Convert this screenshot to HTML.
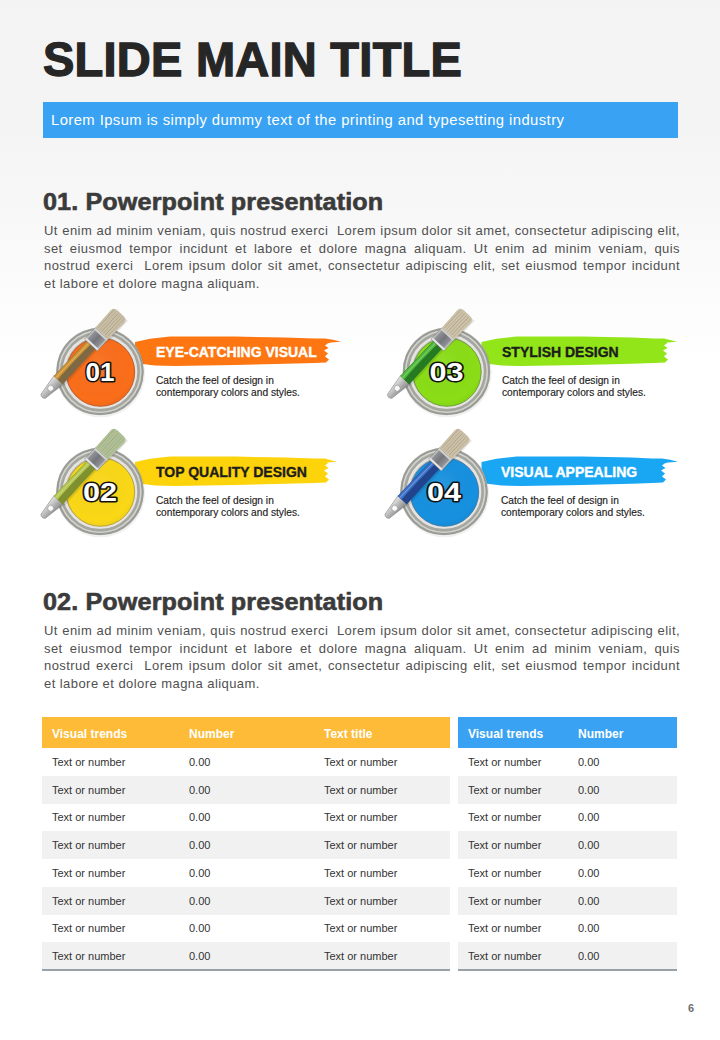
<!DOCTYPE html>
<html><head><meta charset="utf-8">
<style>
*{margin:0;padding:0;box-sizing:border-box}
html,body{width:720px;height:1040px;overflow:hidden}
body{position:relative;font-family:"Liberation Sans",sans-serif;background:linear-gradient(#f3f3f3 0px,#f4f4f4 120px,#f8f8f8 220px,#fcfcfc 300px,#fff 370px)}
.abs{position:absolute;white-space:nowrap}
#title{left:43px;top:30px;font-size:47px;letter-spacing:0.25px;font-weight:bold;color:#262626;line-height:60px;transform:scaleY(1.01);transform-origin:0 0;-webkit-text-stroke:1.3px #262626}
#sub{left:43px;top:102px;width:635px;height:36px;background:#39a2f2}
#sub span{position:absolute;left:8px;top:9.5px;font-size:14px;letter-spacing:0.4px;color:#fff;line-height:17px;transform:scaleX(1.058);transform-origin:0 0}
.h{left:43px;font-size:24px;font-weight:bold;color:#3b3b3b;letter-spacing:0.1px;line-height:30px;transform:scaleX(1.05);transform-origin:0 0;-webkit-text-stroke:0.6px #3b3b3b}
.p{left:44px;width:636px;font-size:13px;letter-spacing:0.44px;color:#505050;line-height:17.6px;white-space:normal}
.p div{text-align:justify;text-align-last:justify;white-space:nowrap}
.p div.l{text-align-last:left}
.bt{font-size:14px;font-weight:bold;line-height:18px;-webkit-text-stroke:0.35px currentColor}
.desc{font-size:10.2px;color:#222;line-height:12.2px;-webkit-text-stroke:0.15px #222}
.tbl{position:absolute;top:717px;border-collapse:collapse}
.tbl th{height:31px;font-size:12px;font-weight:bold;color:#fff;text-align:left;padding:2px 0 0 10px;vertical-align:middle}
.tbl td{height:27.75px;font-size:11px;color:#333;padding:0 0 0 10px;vertical-align:middle;white-space:nowrap}
.tbl tbody tr:nth-child(even) td{background:#f1f1f1}
.tbl tr:last-child td{border-bottom:2px solid #98a0a8}
</style></head><body>
<div id="title" class="abs">SLIDE MAIN TITLE</div>
<div id="sub" class="abs"><span>Lorem Ipsum is simply dummy text of the printing and typesetting industry</span></div>

<div class="abs h" style="top:187px">01. Powerpoint presentation</div>
<div class="abs p" style="top:222px">
<div>Ut enim ad minim veniam, quis nostrud exerci &nbsp;Lorem ipsum dolor sit amet, consectetur adipiscing elit,</div>
<div>set eiusmod tempor incidunt et labore et dolore magna aliquam. Ut enim ad minim veniam, quis</div>
<div>nostrud exerci &nbsp;Lorem ipsum dolor sit amet, consectetur adipiscing elit, set eiusmod tempor incidunt</div>
<div class="l">et labore et dolore magna aliquam.</div>
</div>

<div class="abs h" style="top:587px">02. Powerpoint presentation</div>
<div class="abs p" style="top:622px">
<div>Ut enim ad minim veniam, quis nostrud exerci &nbsp;Lorem ipsum dolor sit amet, consectetur adipiscing elit,</div>
<div>set eiusmod tempor incidunt et labore et dolore magna aliquam. Ut enim ad minim veniam, quis</div>
<div>nostrud exerci &nbsp;Lorem ipsum dolor sit amet, consectetur adipiscing elit, set eiusmod tempor incidunt</div>
<div class="l">et labore et dolore magna aliquam.</div>
</div>


<svg class="abs" style="left:0;top:0" width="720" height="1040" viewBox="0 0 720 1040">
<defs>
<radialGradient id="rim" cx="0.6" cy="0.62" r="0.6"><stop offset="0" stop-color="#f2f2f2"/><stop offset="0.8" stop-color="#dcdcdc"/><stop offset="1" stop-color="#b0b0b0"/></radialGradient>
<linearGradient id="rim2" x1="0.2" y1="0.1" x2="0.8" y2="0.9"><stop offset="0" stop-color="#bdbdbd"/><stop offset="0.5" stop-color="#e8e8e8"/><stop offset="1" stop-color="#d0d0d0"/></linearGradient>
<radialGradient id="shade" cx="0.45" cy="0.4" r="0.65"><stop offset="0" stop-color="#fff" stop-opacity="0.08"/><stop offset="0.8" stop-color="#000" stop-opacity="0"/><stop offset="1" stop-color="#000" stop-opacity="0.06"/></radialGradient>
<linearGradient id="metal" x1="0" y1="0" x2="0" y2="1"><stop offset="0" stop-color="#e6e6e6"/><stop offset="0.5" stop-color="#b8b8b8"/><stop offset="1" stop-color="#8c8c8c"/></linearGradient>
<linearGradient id="ferr" x1="0" y1="0" x2="0" y2="1"><stop offset="0" stop-color="#d6d6d6"/><stop offset="0.15" stop-color="#8e9094"/><stop offset="0.5" stop-color="#74767c"/><stop offset="0.85" stop-color="#8e9094"/><stop offset="1" stop-color="#dadada"/></linearGradient>
</defs>
<path d="M135.0,342.0 L150.0,338.8 L170.0,336.4 L235.0,336.6 L285.0,337.6 L315.0,338.4 L325.0,338.6 L333.0,339.8 L341.0,341.8 L331.0,342.6 L328.0,343.2 L325.0,345.5 L328.5,348.0 L324.0,350.5 L328.0,353.5 L325.0,356.5 L329.0,359.5 L326.0,362.6 L315.0,363.0 L285.0,363.8 L235.0,365.0 L175.0,366.0 L155.0,365.6 L141.0,363.8 L135.0,360.0 Z" fill="#fd7611"/>
<path d="M481.5,342.0 L496.5,338.8 L516.5,336.4 L581.5,336.6 L631.5,337.6 L654.0,338.4 L664.0,338.6 L669.0,339.8 L677.0,341.8 L667.0,342.6 L667.0,343.2 L664.0,345.5 L667.5,348.0 L663.0,350.5 L667.0,353.5 L664.0,356.5 L668.0,359.5 L665.0,362.6 L654.0,363.0 L631.5,363.8 L581.5,365.0 L521.5,366.0 L501.5,365.6 L487.5,363.8 L481.5,360.0 Z" fill="#91e518"/>
<path d="M135.0,462.0 L150.0,458.8 L170.0,456.4 L235.0,456.6 L285.0,457.6 L315.0,458.4 L325.0,458.6 L329.0,459.8 L337.0,461.8 L327.0,462.6 L328.0,463.2 L325.0,465.5 L328.5,468.0 L324.0,470.5 L328.0,473.5 L325.0,476.5 L329.0,479.5 L326.0,482.6 L315.0,483.0 L285.0,483.8 L235.0,485.0 L175.0,486.0 L155.0,485.6 L141.0,483.8 L135.0,480.0 Z" fill="#fdd40b"/>
<path d="M481.5,462.0 L496.5,458.8 L516.5,456.4 L581.5,456.6 L631.5,457.6 L652.0,458.4 L662.0,458.6 L670.0,459.8 L678.0,461.8 L668.0,462.6 L665.0,463.2 L662.0,465.5 L665.5,468.0 L661.0,470.5 L665.0,473.5 L662.0,476.5 L666.0,479.5 L663.0,482.6 L652.0,483.0 L631.5,483.8 L581.5,485.0 L521.5,486.0 L501.5,485.6 L487.5,483.8 L481.5,480.0 Z" fill="#19a7f4"/>
<circle cx="100.6" cy="372.7" r="44.6" fill="#000" opacity="0.06"/><circle cx="100" cy="371.5" r="43.8" fill="#b9b9b4"/><circle cx="100" cy="371.5" r="42.6" fill="none" stroke="#999b95" stroke-width="2"/><circle cx="100" cy="371.5" r="40.7" fill="none" stroke="#d4d4ce" stroke-width="1.6"/><circle cx="100" cy="371.5" r="38.6" fill="none" stroke="#a4a6a0" stroke-width="2.6"/><circle cx="100" cy="371.5" r="36.0" fill="none" stroke="#e6e3e0" stroke-width="2.6"/><circle cx="100.5" cy="372.1" r="34.2" fill="#fb6e1a" stroke="#b85a30" stroke-width="0.9"/><circle cx="100.5" cy="372.1" r="33.8" fill="url(#shade)"/><g transform="translate(42.5,397.0) rotate(-47)"><path d="M4,3 L24,8.5 L72,8 L88,10.5 L114,10.5 L114,3 Z" fill="#000" opacity="0.10"/><path d="M1,-3 Q-2,0 1,3 L23.5,6.2 L23.5,-6.2 Z" fill="url(#metal)" stroke="#7a7a7a" stroke-width="0.5"/><circle cx="12" cy="0" r="3" fill="#fafafa" stroke="#8a8a8a" stroke-width="0.6"/><path d="M23,-6 C40,-6.2 58,-5.6 71.5,-5.8 L71.5,6 C58,5.6 40,6.4 23,6.2 Z" fill="#7d6a45"/><path d="M23,-5.6 C40,-5.8 58,-5.2 71.5,-5.4 L71.5,-0.5 C58,-1.2 40,-1.4 23,-0.8 Z" fill="#cf922f"/><path d="M23,-3.8 C40,-4 58,-3.6 71.5,-3.2 L71.5,-2.3 C58,-2.6 40,-3 23,-2.8 Z" fill="#fff" opacity="0.28"/><path d="M71,-8.6 L87,-8.6 L87,8.6 L71,8.6 Z" fill="url(#ferr)" stroke="#6a6a6a" stroke-width="0.5"/><path d="M71.3,-8.3 L73.4,-8.3 L73.4,8.3 L71.3,8.3 Z" fill="#e6e6e6"/><path d="M84.6,-8.3 L86.7,-8.3 L86.7,8.3 L84.6,8.3 Z" fill="#d0d0d0"/><path d="M86.5,-8.6 L110,-9.3 Q114.5,-9 114.5,-4 L114.5,4 Q114.5,9 110,9.3 L86.5,8.6 Z" fill="#c9bfa6"/><path d="M88,-6.50 L113,-7.02" stroke="#8a7d60" stroke-width="0.9" opacity="0.4"/><path d="M88,-4.00 L113,-4.32" stroke="#8a7d60" stroke-width="0.9" opacity="0.25"/><path d="M88,-1.50 L113,-1.62" stroke="#8a7d60" stroke-width="0.9" opacity="0.45"/><path d="M88,1.00 L113,1.08" stroke="#8a7d60" stroke-width="0.9" opacity="0.3"/><path d="M88,3.50 L113,3.78" stroke="#8a7d60" stroke-width="0.9" opacity="0.45"/><path d="M88,6.00 L113,6.48" stroke="#8a7d60" stroke-width="0.9" opacity="0.3"/></g><text x="85.5" y="380.5" textLength="29" lengthAdjust="spacingAndGlyphs" font-family="Liberation Sans" font-weight="bold" font-size="25" fill="#fff" stroke="#111" stroke-width="3.0" paint-order="stroke" stroke-linejoin="round">01</text>
<circle cx="447.1" cy="372.7" r="44.6" fill="#000" opacity="0.06"/><circle cx="446.5" cy="371.5" r="43.8" fill="#b9b9b4"/><circle cx="446.5" cy="371.5" r="42.6" fill="none" stroke="#999b95" stroke-width="2"/><circle cx="446.5" cy="371.5" r="40.7" fill="none" stroke="#d4d4ce" stroke-width="1.6"/><circle cx="446.5" cy="371.5" r="38.6" fill="none" stroke="#a4a6a0" stroke-width="2.6"/><circle cx="446.5" cy="371.5" r="36.0" fill="none" stroke="#e6e3e0" stroke-width="2.6"/><circle cx="447.0" cy="372.1" r="34.2" fill="#8ade16" stroke="#6a9a40" stroke-width="0.9"/><circle cx="447.0" cy="372.1" r="33.8" fill="url(#shade)"/><g transform="translate(389.0,397.0) rotate(-47)"><path d="M4,3 L24,8.5 L72,8 L88,10.5 L114,10.5 L114,3 Z" fill="#000" opacity="0.10"/><path d="M1,-3 Q-2,0 1,3 L23.5,6.2 L23.5,-6.2 Z" fill="url(#metal)" stroke="#7a7a7a" stroke-width="0.5"/><circle cx="12" cy="0" r="3" fill="#fafafa" stroke="#8a8a8a" stroke-width="0.6"/><path d="M23,-6 C40,-6.2 58,-5.6 71.5,-5.8 L71.5,6 C58,5.6 40,6.4 23,6.2 Z" fill="#257a22"/><path d="M23,-5.6 C40,-5.8 58,-5.2 71.5,-5.4 L71.5,-0.5 C58,-1.2 40,-1.4 23,-0.8 Z" fill="#4fb83a"/><path d="M23,-3.8 C40,-4 58,-3.6 71.5,-3.2 L71.5,-2.3 C58,-2.6 40,-3 23,-2.8 Z" fill="#fff" opacity="0.28"/><path d="M71,-8.6 L87,-8.6 L87,8.6 L71,8.6 Z" fill="url(#ferr)" stroke="#6a6a6a" stroke-width="0.5"/><path d="M71.3,-8.3 L73.4,-8.3 L73.4,8.3 L71.3,8.3 Z" fill="#e6e6e6"/><path d="M84.6,-8.3 L86.7,-8.3 L86.7,8.3 L84.6,8.3 Z" fill="#d0d0d0"/><path d="M86.5,-8.6 L110,-9.3 Q114.5,-9 114.5,-4 L114.5,4 Q114.5,9 110,9.3 L86.5,8.6 Z" fill="#cdc3aa"/><path d="M88,-6.50 L113,-7.02" stroke="#8a7d60" stroke-width="0.9" opacity="0.4"/><path d="M88,-4.00 L113,-4.32" stroke="#8a7d60" stroke-width="0.9" opacity="0.25"/><path d="M88,-1.50 L113,-1.62" stroke="#8a7d60" stroke-width="0.9" opacity="0.45"/><path d="M88,1.00 L113,1.08" stroke="#8a7d60" stroke-width="0.9" opacity="0.3"/><path d="M88,3.50 L113,3.78" stroke="#8a7d60" stroke-width="0.9" opacity="0.45"/><path d="M88,6.00 L113,6.48" stroke="#8a7d60" stroke-width="0.9" opacity="0.3"/></g><text x="429.5" y="380.5" textLength="34" lengthAdjust="spacingAndGlyphs" font-family="Liberation Sans" font-weight="bold" font-size="25" fill="#fff" stroke="#111" stroke-width="3.0" paint-order="stroke" stroke-linejoin="round">03</text>
<circle cx="100.6" cy="492.7" r="44.6" fill="#000" opacity="0.06"/><circle cx="100" cy="491.5" r="43.8" fill="#b9b9b4"/><circle cx="100" cy="491.5" r="42.6" fill="none" stroke="#999b95" stroke-width="2"/><circle cx="100" cy="491.5" r="40.7" fill="none" stroke="#d4d4ce" stroke-width="1.6"/><circle cx="100" cy="491.5" r="38.6" fill="none" stroke="#a4a6a0" stroke-width="2.6"/><circle cx="100" cy="491.5" r="36.0" fill="none" stroke="#e6e3e0" stroke-width="2.6"/><circle cx="100.5" cy="492.1" r="34.2" fill="#fbd816" stroke="#b0a040" stroke-width="0.9"/><circle cx="100.5" cy="492.1" r="33.8" fill="url(#shade)"/><g transform="translate(42.5,517.0) rotate(-47)"><path d="M4,3 L24,8.5 L72,8 L88,10.5 L114,10.5 L114,3 Z" fill="#000" opacity="0.10"/><path d="M1,-3 Q-2,0 1,3 L23.5,6.2 L23.5,-6.2 Z" fill="url(#metal)" stroke="#7a7a7a" stroke-width="0.5"/><circle cx="12" cy="0" r="3" fill="#fafafa" stroke="#8a8a8a" stroke-width="0.6"/><path d="M23,-6 C40,-6.2 58,-5.6 71.5,-5.8 L71.5,6 C58,5.6 40,6.4 23,6.2 Z" fill="#7f9030"/><path d="M23,-5.6 C40,-5.8 58,-5.2 71.5,-5.4 L71.5,-0.5 C58,-1.2 40,-1.4 23,-0.8 Z" fill="#b4c650"/><path d="M23,-3.8 C40,-4 58,-3.6 71.5,-3.2 L71.5,-2.3 C58,-2.6 40,-3 23,-2.8 Z" fill="#fff" opacity="0.28"/><path d="M71,-8.6 L87,-8.6 L87,8.6 L71,8.6 Z" fill="url(#ferr)" stroke="#6a6a6a" stroke-width="0.5"/><path d="M71.3,-8.3 L73.4,-8.3 L73.4,8.3 L71.3,8.3 Z" fill="#e6e6e6"/><path d="M84.6,-8.3 L86.7,-8.3 L86.7,8.3 L84.6,8.3 Z" fill="#d0d0d0"/><path d="M86.5,-8.6 L110,-9.3 Q114.5,-9 114.5,-4 L114.5,4 Q114.5,9 110,9.3 L86.5,8.6 Z" fill="#b3c199"/><path d="M88,-6.50 L113,-7.02" stroke="#7d8a60" stroke-width="0.9" opacity="0.4"/><path d="M88,-4.00 L113,-4.32" stroke="#7d8a60" stroke-width="0.9" opacity="0.25"/><path d="M88,-1.50 L113,-1.62" stroke="#7d8a60" stroke-width="0.9" opacity="0.45"/><path d="M88,1.00 L113,1.08" stroke="#7d8a60" stroke-width="0.9" opacity="0.3"/><path d="M88,3.50 L113,3.78" stroke="#7d8a60" stroke-width="0.9" opacity="0.45"/><path d="M88,6.00 L113,6.48" stroke="#7d8a60" stroke-width="0.9" opacity="0.3"/></g><text x="83.0" y="500.5" textLength="34" lengthAdjust="spacingAndGlyphs" font-family="Liberation Sans" font-weight="bold" font-size="25" fill="#fff" stroke="#111" stroke-width="3.0" paint-order="stroke" stroke-linejoin="round">02</text>
<circle cx="444.6" cy="492.7" r="44.6" fill="#000" opacity="0.06"/><circle cx="444" cy="491.5" r="43.8" fill="#b9b9b4"/><circle cx="444" cy="491.5" r="42.6" fill="none" stroke="#999b95" stroke-width="2"/><circle cx="444" cy="491.5" r="40.7" fill="none" stroke="#d4d4ce" stroke-width="1.6"/><circle cx="444" cy="491.5" r="38.6" fill="none" stroke="#a4a6a0" stroke-width="2.6"/><circle cx="444" cy="491.5" r="36.0" fill="none" stroke="#e6e3e0" stroke-width="2.6"/><circle cx="444.5" cy="492.1" r="34.2" fill="#1691e0" stroke="#407aa8" stroke-width="0.9"/><circle cx="444.5" cy="492.1" r="33.8" fill="url(#shade)"/><g transform="translate(386.5,517.0) rotate(-47)"><path d="M4,3 L24,8.5 L72,8 L88,10.5 L114,10.5 L114,3 Z" fill="#000" opacity="0.10"/><path d="M1,-3 Q-2,0 1,3 L23.5,6.2 L23.5,-6.2 Z" fill="url(#metal)" stroke="#7a7a7a" stroke-width="0.5"/><circle cx="12" cy="0" r="3" fill="#fafafa" stroke="#8a8a8a" stroke-width="0.6"/><path d="M23,-6 C40,-6.2 58,-5.6 71.5,-5.8 L71.5,6 C58,5.6 40,6.4 23,6.2 Z" fill="#22448c"/><path d="M23,-5.6 C40,-5.8 58,-5.2 71.5,-5.4 L71.5,-0.5 C58,-1.2 40,-1.4 23,-0.8 Z" fill="#3a70c8"/><path d="M23,-3.8 C40,-4 58,-3.6 71.5,-3.2 L71.5,-2.3 C58,-2.6 40,-3 23,-2.8 Z" fill="#fff" opacity="0.28"/><path d="M71,-8.6 L87,-8.6 L87,8.6 L71,8.6 Z" fill="url(#ferr)" stroke="#6a6a6a" stroke-width="0.5"/><path d="M71.3,-8.3 L73.4,-8.3 L73.4,8.3 L71.3,8.3 Z" fill="#e6e6e6"/><path d="M84.6,-8.3 L86.7,-8.3 L86.7,8.3 L84.6,8.3 Z" fill="#d0d0d0"/><path d="M86.5,-8.6 L110,-9.3 Q114.5,-9 114.5,-4 L114.5,4 Q114.5,9 110,9.3 L86.5,8.6 Z" fill="#cbc1a8"/><path d="M88,-6.50 L113,-7.02" stroke="#8a7d60" stroke-width="0.9" opacity="0.4"/><path d="M88,-4.00 L113,-4.32" stroke="#8a7d60" stroke-width="0.9" opacity="0.25"/><path d="M88,-1.50 L113,-1.62" stroke="#8a7d60" stroke-width="0.9" opacity="0.45"/><path d="M88,1.00 L113,1.08" stroke="#8a7d60" stroke-width="0.9" opacity="0.3"/><path d="M88,3.50 L113,3.78" stroke="#8a7d60" stroke-width="0.9" opacity="0.45"/><path d="M88,6.00 L113,6.48" stroke="#8a7d60" stroke-width="0.9" opacity="0.3"/></g><text x="427.0" y="500.5" textLength="34" lengthAdjust="spacingAndGlyphs" font-family="Liberation Sans" font-weight="bold" font-size="25" fill="#fff" stroke="#111" stroke-width="3.0" paint-order="stroke" stroke-linejoin="round">04</text>
</svg>
<div class="abs bt" style="left:156px;top:342.5px;color:#fff">EYE-CATCHING VISUAL</div>
<div class="abs desc" style="left:156px;top:375px">Catch the feel of design in<br>contemporary colors and styles.</div>
<div class="abs bt" style="left:502px;top:342.5px;color:#1d1d1d">STYLISH DESIGN</div>
<div class="abs desc" style="left:502px;top:375px">Catch the feel of design in<br>contemporary colors and styles.</div>
<div class="abs bt" style="left:156px;top:462.5px;color:#1d1d1d">TOP QUALITY DESIGN</div>
<div class="abs desc" style="left:156px;top:495px">Catch the feel of design in<br>contemporary colors and styles.</div>
<div class="abs bt" style="left:501px;top:462.5px;color:#fff">VISUAL APPEALING</div>
<div class="abs desc" style="left:501px;top:495px">Catch the feel of design in<br>contemporary colors and styles.</div>
<table class="tbl" style="left:42px;width:408px"><thead><tr style="background:#fdbb37"><th style="width:137px">Visual trends</th><th style="width:135px">Number</th><th>Text title</th></tr></thead><tbody><tr><td>Text or number</td><td>0.00</td><td>Text or number</td></tr><tr><td>Text or number</td><td>0.00</td><td>Text or number</td></tr><tr><td>Text or number</td><td>0.00</td><td>Text or number</td></tr><tr><td>Text or number</td><td>0.00</td><td>Text or number</td></tr><tr><td>Text or number</td><td>0.00</td><td>Text or number</td></tr><tr><td>Text or number</td><td>0.00</td><td>Text or number</td></tr><tr><td>Text or number</td><td>0.00</td><td>Text or number</td></tr><tr><td>Text or number</td><td>0.00</td><td>Text or number</td></tr></tbody></table>
<table class="tbl" style="left:458px;width:219px"><thead><tr style="background:#39a2f2"><th style="width:110px">Visual trends</th><th>Number</th></tr></thead><tbody><tr><td>Text or number</td><td>0.00</td></tr><tr><td>Text or number</td><td>0.00</td></tr><tr><td>Text or number</td><td>0.00</td></tr><tr><td>Text or number</td><td>0.00</td></tr><tr><td>Text or number</td><td>0.00</td></tr><tr><td>Text or number</td><td>0.00</td></tr><tr><td>Text or number</td><td>0.00</td></tr><tr><td>Text or number</td><td>0.00</td></tr></tbody></table>
<div class="abs" style="left:688px;top:1002px;font-size:11px;line-height:12px;font-weight:bold;color:#707070">6</div>
</body></html>
